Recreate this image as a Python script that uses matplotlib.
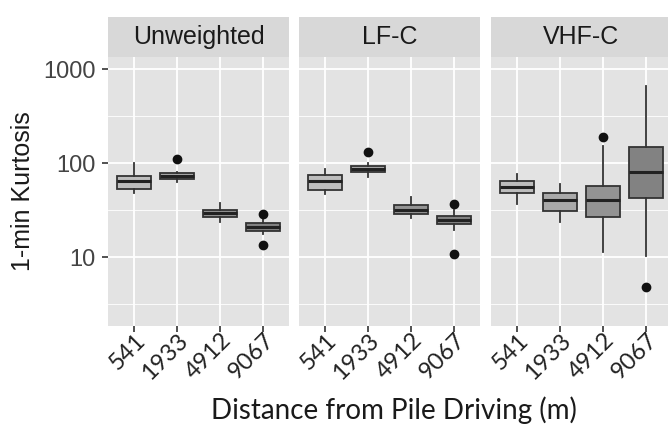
import numpy as np
import matplotlib.pyplot as plt
from matplotlib.ticker import FixedLocator, NullFormatter
from matplotlib.transforms import ScaledTranslation, blended_transform_factory

# data (1-min kurtosis, log scale)
distances = ["541", "1933", "4912", "9067"]
panels = ["Unweighted", "LF-C", "VHF-C"]

unw_med = [65, 74, 29.4, 21.2]
unw_q1 = [53, 68, 26.7, 19.2]
unw_q3 = [73, 78, 31.8, 23]
unw_lo = [48, 63, 23.9, 17.6]
unw_hi = [100, 81, 37.5, 26]
unw_out = [[], [110], [], [28.6, 13.5]]

lfc_med = [65, 87, 31.8, 25]
lfc_q1 = [52, 80, 28.6, 22.4]
lfc_q3 = [74.5, 93.6, 35.7, 27.7]
lfc_lo = [46.8, 72, 26.4, 19.5]
lfc_hi = [87, 101.6, 44, 31.8]
lfc_out = [[], [133], [], [36.9, 10.8]]

vhf_med = [55.5, 40.8, 40.8, 81.5]
vhf_q1 = [48, 31.3, 26.7, 43]
vhf_q3 = [65.3, 48.3, 57.8, 150]
vhf_lo = [36.9, 23.6, 11.3, 10.4]
vhf_hi = [77, 61, 153, 664]
vhf_out = [[], [], [192], [4.8]]

fills = ["#bdbdbd", "#a9a9a9", "#939393", "#828282"]

data = [
    (unw_med, unw_q1, unw_q3, unw_lo, unw_hi, unw_out),
    (lfc_med, lfc_q1, lfc_q3, lfc_lo, lfc_hi, lfc_out),
    (vhf_med, vhf_q1, vhf_q3, vhf_lo, vhf_hi, vhf_out),
]

W, H = 668, 425
fig = plt.figure(figsize=(W / 100, H / 100), dpi=100)

lefts = [108, 299, 491]
pw = 181
ptop, pbot = 57, 326
strip_top = 17

for k, (name, (med, q1, q3, lo, hi, out)) in enumerate(zip(panels, data)):
    ax = fig.add_axes([lefts[k] / W, (H - pbot) / H, pw / W, (pbot - ptop) / H])
    ax.set_facecolor("#e3e3e3")
    stats = []
    for i in range(len(distances)):
        stats.append(dict(med=med[i], q1=q1[i], q3=q3[i], whislo=lo[i],
                          whishi=hi[i], fliers=out[i]))
    bp = ax.bxp(stats, positions=range(1, 5), widths=0.8, patch_artist=True,
                showcaps=False,
                boxprops=dict(edgecolor="#333333", linewidth=1.3),
                medianprops=dict(color="#222222", linewidth=2.2),
                whiskerprops=dict(color="#333333", linewidth=1.3),
                flierprops=dict(marker="o", markerfacecolor="#111111",
                                markeredgecolor="#111111", markersize=6))
    for patch, c in zip(bp["boxes"], fills):
        patch.set_facecolor(c)

    ax.set_yscale("log")
    ax.set_ylim(1.86, 1352)
    ax.set_xlim(0.4, 4.6)
    ax.yaxis.set_major_locator(FixedLocator([10, 100, 1000]))
    ax.yaxis.set_minor_locator(FixedLocator([10 ** 0.5, 10 ** 1.5, 10 ** 2.5]))
    ax.yaxis.set_minor_formatter(NullFormatter())
    ax.grid(True, which="major", color="white", linewidth=1.3)
    ax.grid(True, which="minor", axis="y", color="white", linewidth=0.6)
    ax.set_axisbelow(True)
    for s in ax.spines.values():
        s.set_visible(False)

    ax.set_xticks(range(1, 5))
    ax.set_xticklabels([])
    ax.tick_params(axis="x", length=4, width=1.2, color="#333333")
    # rotated category labels, placed like ggplot's angle=45, hjust=1
    trans = blended_transform_factory(ax.transData, ax.transAxes)
    trans = trans + ScaledTranslation(8 / 100, -11 / 100, fig.dpi_scale_trans)
    for i, lab in enumerate(distances):
        ax.text(i + 1, 0, lab, transform=trans, rotation=45, ha="right",
                va="center", rotation_mode="anchor", fontsize=17,
                family="Lato", color="#222222", clip_on=False)

    ax.tick_params(axis="y", which="minor", length=0)
    if k == 0:
        ax.set_yticklabels(["10", "100", "1000"], fontsize=17,
                           family="Liberation Sans", color="#444444")
        ax.tick_params(axis="y", which="major", length=4, width=1.2,
                       color="#333333", pad=5)
    else:
        ax.tick_params(axis="y", which="major", length=0, labelleft=False)

    # facet strip
    sax = fig.add_axes([lefts[k] / W, (H - ptop) / H, pw / W, (ptop - strip_top) / H])
    sax.set_facecolor("#d8d8d8")
    sax.set_xticks([])
    sax.set_yticks([])
    for s in sax.spines.values():
        s.set_visible(False)
    sax.text(0.5, 0.5, name, ha="center", va="center", fontsize=18,
             family="Liberation Sans", color="#1a1a1a", transform=sax.transAxes)

fig.text(23 / W, 1 - 191.5 / H, "1-min Kurtosis", rotation=90, ha="center",
         va="center", fontsize=18, family="Liberation Sans", color="#1a1a1a")
fig.text(394 / W, 1 - 410 / H, "Distance from Pile Driving (m)", ha="center",
         va="center", fontsize=20, family="Lato", color="#1a1a1a")

fig.savefig("out.png", dpi=100, facecolor="white")
